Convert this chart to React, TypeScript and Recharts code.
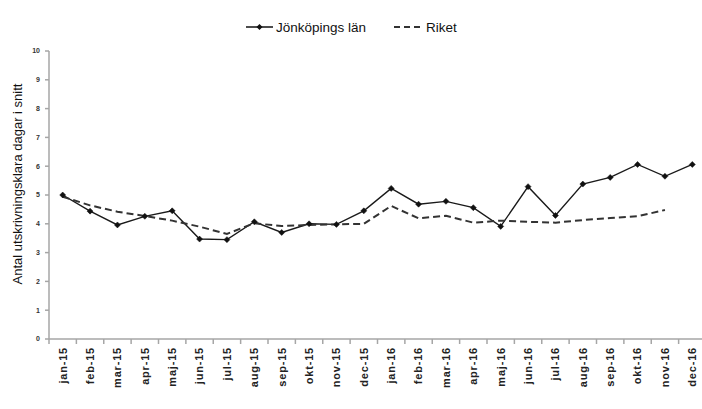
import React from 'react';
import { LineChart, Line, XAxis, YAxis, Legend } from 'recharts';

// Månader på x-axeln
const months = [
  'jan-15', 'feb-15', 'mar-15', 'apr-15', 'maj-15', 'jun-15',
  'jul-15', 'aug-15', 'sep-15', 'okt-15', 'nov-15', 'dec-15',
  'jan-16', 'feb-16', 'mar-16', 'apr-16', 'maj-16', 'jun-16',
  'jul-16', 'aug-16', 'sep-16', 'okt-16', 'nov-16', 'dec-16',
];

const jonkoping = [
  5.0, 4.44, 3.96, 4.26, 4.45, 3.47, 3.45, 4.07, 3.7, 4.0, 3.98, 4.45,
  5.23, 4.68, 4.78, 4.56, 3.91, 5.29, 4.29, 5.38, 5.61, 6.06, 5.65, 6.06,
];

const riket: (number | null)[] = [
  4.94, 4.64, 4.42, 4.27, 4.11, 3.9, 3.65, 4.02, 3.92, 3.96, 3.98, 4.0,
  4.62, 4.19, 4.28, 4.04, 4.11, 4.07, 4.04, 4.13, 4.2, 4.26, 4.48, null,
];

const yTicks = [0, 1, 2, 3, 4, 5, 6, 7, 8, 9, 10];

const data = months.map((m, i) => ({ name: m, jkpg: jonkoping[i], riket: riket[i] }));

const CHART_W = 706;
const Y_W = 49;
const HALF = (CHART_W - Y_W) / months.length / 2;
const AXIS_GRAY = '#a6a6a6';
const FONT = '"Liberation Sans", Arial, sans-serif';
const NARROW = '"Liberation Sans Narrow", "Liberation Sans", Arial, sans-serif';

const Diamond = (props: any) => {
  const { cx, cy } = props;
  if (cx == null || cy == null) return null;
  const s = 3;
  return (
    <polygon
      points={`${cx},${cy - s} ${cx + s},${cy} ${cx},${cy + s} ${cx - s},${cy}`}
      fill="#111"
      stroke="#111"
      strokeWidth={0.5}
    />
  );
};

const MonthTick = (props: any) => {
  const { x, y, payload, index } = props;
  const axisY = y - 8;
  return (
    <g>
      <line x1={x - HALF} x2={x - HALF} y1={axisY} y2={axisY + 5} stroke={AXIS_GRAY} strokeWidth={1.5} />
      {index === months.length - 1 && (
        <line x1={x + HALF} x2={x + HALF} y1={axisY} y2={axisY + 5} stroke={AXIS_GRAY} strokeWidth={1.5} />
      )}
      <text
        transform={`translate(${x},${axisY + 8}) rotate(-90)`}
        textAnchor="end"
        dy="0.35em"
        fontSize={11}
        fontWeight="bold"
        fontFamily={NARROW}
        letterSpacing={0.8}
        fill="#222"
      >
        {payload.value}
      </text>
    </g>
  );
};

const TopLegend = () => (
  <svg width={702} height={20} style={{ display: 'block' }}>
    <line x1={246} x2={273} y1={10} y2={10} stroke="#111" strokeWidth={1.5} />
    <polygon points="259.5,7 262.5,10 259.5,13 256.5,10" fill="#111" />
    <text x={276} y={14.5} fontSize={13.5} fontFamily={NARROW} fill="#111">
      Jönköpings län
    </text>
    <line x1={394} x2={423} y1={10} y2={10} stroke="#333" strokeWidth={2} strokeDasharray="6 4" />
    <text x={426} y={14.5} fontSize={13.5} fontFamily={NARROW} fill="#111">
      Riket
    </text>
  </svg>
);

const YLabel = () => (
  <text
    x={17}
    y={184}
    transform="rotate(-90, 17, 184)"
    textAnchor="middle"
    dominantBaseline="central"
    fontSize={13}
    fontFamily={NARROW}
    fill="#111"
  >
    Antal utskrivningsklara dagar i snitt
  </text>
);

export default function App() {
  return (
    <div style={{ position: 'absolute', left: 0, top: 0, width: 702, height: 409, overflow: 'hidden', background: '#fff' }}>
      <LineChart
        width={CHART_W}
        height={409}
        data={data}
        margin={{ top: 31, right: 0, left: 0, bottom: 10 }}
      >
        <XAxis
          dataKey="name"
          interval={0}
          padding={{ left: HALF, right: HALF }}
          height={60}
          tickLine={false}
          tickSize={0}
          tickMargin={8}
          axisLine={{ stroke: AXIS_GRAY, strokeWidth: 1.5 }}
          tick={<MonthTick />}
        />
        <YAxis
          width={Y_W}
          domain={[0, 10]}
          ticks={yTicks}
          interval={0}
          tickSize={4}
          tickMargin={5}
          tickLine={{ stroke: AXIS_GRAY, strokeWidth: 1.5 }}
          axisLine={{ stroke: AXIS_GRAY, strokeWidth: 1.5 }}
          tick={{ fontSize: 7, fontWeight: 'bold', fontFamily: FONT, fill: '#333' }}
          label={<YLabel />}
        />
        <Legend verticalAlign="top" height={20} wrapperStyle={{ top: 17, left: 0, width: 702 }} content={<TopLegend />} />
        <Line
          type="linear"
          dataKey="jkpg"
          stroke="#1a1a1a"
          strokeWidth={1.4}
          dot={<Diamond />}
          activeDot={false}
          isAnimationActive={false}
        />
        <Line
          type="linear"
          dataKey="riket"
          stroke="#333"
          strokeWidth={2}
          strokeDasharray="7 4"
          dot={false}
          activeDot={false}
          isAnimationActive={false}
        />
      </LineChart>
    </div>
  );
}
